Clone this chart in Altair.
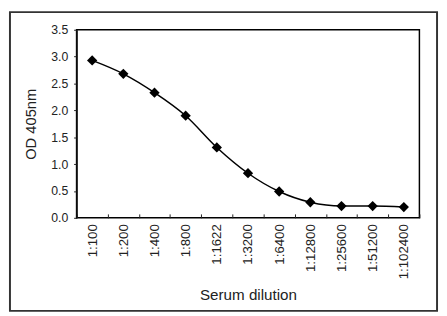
import altair as alt
import pandas as pd

dilutions = ["1:100", "1:200", "1:400", "1:800", "1:1622", "1:3200", "1:6400",
             "1:12800", "1:25600", "1:51200", "1:102400"]
od405 = [2.93, 2.68, 2.33, 1.90, 1.31, 0.83, 0.49, 0.29, 0.22, 0.22, 0.20]

df = pd.DataFrame({"dilution": dilutions, "od": od405})

FONT = "Liberation Sans"
W, H = 350, 192

x = alt.X("dilution:N", sort=dilutions,
          scale=alt.Scale(type="band", paddingInner=0, paddingOuter=0),
          axis=alt.Axis(title="Serum dilution", labelAngle=270, labelAlign="right",
                        labelBaseline="middle", labelFontSize=13.5, labelFont=FONT,
                        labelColor="#222", tickBand="extent", tickSize=4, offset=-4,
                        tickColor="#222", domain=False, labelPadding=6,
                        titleFont=FONT, titleFontSize=15.5, titleFontWeight="normal",
                        titleColor="#222", titlePadding=9, grid=False))
y = alt.Y("od:Q",
          scale=alt.Scale(domain=[0, 3.5], nice=False),
          axis=alt.Axis(title="OD  405nm", values=[0, 0.5, 1, 1.5, 2, 2.5, 3, 3.5],
                        format=".1f", labelFontSize=12.5, labelFont=FONT, labelColor="#222",
                        tickSize=3, tickColor="#222", domainColor="#111", domainWidth=1.5,
                        labelPadding=6, titleFont=FONT, titleFontSize=15,
                        titleFontWeight="normal", titleColor="#222", titlePadding=13,
                        grid=False))

line = alt.Chart(df).mark_line(color="black", strokeWidth=1.5,
                               interpolate="monotone").encode(x=x, y=y)
pts = alt.Chart(df).mark_point(shape="diamond", filled=True, color="black",
                               size=110, opacity=1).encode(x=x, y=y)

frame = alt.Chart(pd.DataFrame({"a": [0]})).mark_rect(
    fill=None, stroke="#333", strokeWidth=2, clip=False
).encode(x=alt.value(-68), x2=alt.value(368), y=alt.value(-18), y2=alt.value(287))

chart = alt.layer(frame, line, pts).properties(
    width=W, height=H,
    background="white",
    autosize=alt.AutoSizeParams(type="none"),
    padding={"left": 70, "top": 19, "right": 20, "bottom": 97},
).configure_view(stroke="black", strokeWidth=1.5)

chart.save("out.html", embed_options={"renderer": "svg", "actions": False})
